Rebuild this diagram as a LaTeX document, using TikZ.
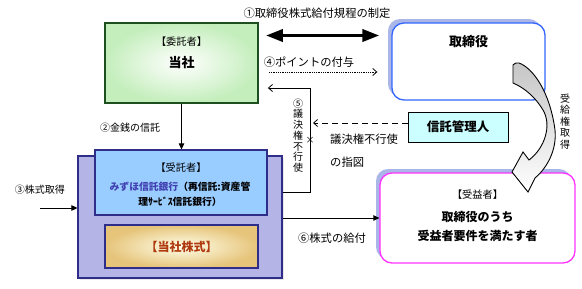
\documentclass[tikz,border=0pt]{standalone}
\usepackage{fontspec}
\setmainfont{Noto Sans CJK JP}
\usetikzlibrary{arrows.meta, shadows}
\definecolor{consignorline}{HTML}{1E4F1E}
\definecolor{consignorfill}{HTML}{C4EEBC}
\definecolor{directorline}{HTML}{3366FF}
\definecolor{beneline}{HTML}{FF33FF}
\definecolor{shadowblue}{HTML}{AAB6E8}
\definecolor{adminfill}{HTML}{CCFFFF}
\definecolor{trustline}{HTML}{2E2E8A}
\definecolor{outerfill}{HTML}{B4B4E6}
\definecolor{innerfill}{HTML}{99CCFF}
\definecolor{sharefill}{HTML}{E6C47A}
\definecolor{sharetext}{HTML}{B03A10}
\definecolor{mizuho}{HTML}{4040B0}
\tikzset{
  lbl/.style={font=\fontsize{11.3}{13}\selectfont, inner sep=0pt},
  smalllbl/.style={font=\fontsize{10}{12}\selectfont, inner sep=0pt},
  vlbl/.style={align=center, inner sep=0pt},
  titlelbl/.style={font=\fontsize{10.2}{12}\selectfont, inner sep=0pt},
  namelbl/.style={font=\bfseries\fontsize{#1}{#1}\selectfont, inner sep=0pt},
  thinarrow/.style={line width=0.8pt, -{Triangle[length=6pt,width=5.5pt]}},
  barbarrow/.style={line width=0.8pt, -{Straight Barb[length=4pt,width=7pt]}},
  roundbox/.style={draw=#1, line width=1.3pt, rounded corners=12pt, fill=white,
    general shadow={fill=shadowblue, shadow xshift=-4pt, shadow yshift=4pt}},
  trustbox/.style={draw=trustline, line width=1.1pt},
}

\begin{document}
\begin{tikzpicture}[x=1pt, y=-1pt]
\useasboundingbox (0,0) rectangle (582,289);

\node[draw=consignorline, line width=1.8pt, inner color=white, outer color=consignorfill,
  minimum width=153pt, minimum height=80pt] (consignor) at (181.5,63) {};
\node[titlelbl] (consignortitle) at (181.5,42) {【委託者】};
\node[namelbl=13] (consignorname) at (181.5,63) {当社};

\node[roundbox=directorline, minimum width=153pt, minimum height=77pt] (director) at (468.5,61.5) {};
\node[namelbl=13] (directorname) at (468.5,42) {取締役};

\node[draw, line width=1pt, fill=adminfill, minimum width=100pt, minimum height=30pt,
  namelbl=12.5] (admin) at (458,127) {信託管理人};

\node[trustbox, fill=outerfill, minimum width=204pt, minimum height=122pt,
  drop shadow={fill=gray!35, shadow xshift=2pt, shadow yshift=-2pt}] (outer) at (180,217) {};
\node[trustbox, fill=innerfill, minimum width=172pt, minimum height=65pt] (inner) at (181,182.5) {};
\node[titlelbl] (trusteetitle) at (181,168) {【受託者】};
\node[align=center, inner sep=0pt, font=\bfseries\fontsize{9.8}{15}\selectfont] (trusteename) at (180,194.5)
  {\textcolor{mizuho}{みずほ信託銀行}（再信託:資産管\\理ｻｰﾋﾞｽ信託銀行）};
\node[trustbox, inner color=yellow!8, outer color=sharefill, minimum width=153pt, minimum height=43pt,
  namelbl=12, text=sharetext] (shares) at (181.5,246.5) {【当社株式】};

\node[roundbox=beneline, minimum width=195pt, minimum height=90pt] (bene) at (477.5,218) {};
\node[titlelbl] (benetitle) at (477.5,195) {【受益者】};
\node[align=center, inner sep=0pt, font=\bfseries\fontsize{12}{19}\selectfont] (benename) at (477.5,226.5)
  {取締役のうち\\受益者要件を満たす者};

\draw[line width=3.5pt, {Triangle[length=17pt,width=12pt]}-{Triangle[length=17pt,width=12pt]},
  shorten <=7pt, shorten >=12pt] (consignor.east |- 0,35.5) -- (director.west |- 0,35.5);
\node[lbl] (rulelbl) at (317,13) {①取締役株式給付規程の制定};

\draw[barbarrow, densely dotted, shorten <=10pt, shorten >=14pt] (consignor.east |- 0,72) -- (director.west |- 0,72);
\node[lbl] (pointlbl) at (309,62) {④ポイントの付与};

\coordinate (votetop) at (310,88);
\draw[barbarrow, shorten >=9pt] (outer.east |- 0,192) -| (votetop) -- (consignor.east |- votetop);
\node[vlbl, font=\fontsize{10}{10.7}\selectfont] (votelbl) at (298,135.5) {⑤\\議\\決\\権\\不\\行\\使};
\node[font=\fontsize{9}{9}\selectfont, inner sep=0pt] (cross) at (310,140) {×};

\draw[barbarrow, dash pattern=on 6pt off 4pt, shorten >=3pt] ([yshift=4pt]admin.west) -- (votetop |- 0,123);
\node[lbl, anchor=west, align=left, font=\fontsize{11.3}{23}\selectfont] (instrlbl) at (330,150.5) {議決権不行使\\の指図};

\draw[thinarrow] (consignor.south) -- (consignor.south |- inner.north);
\node[smalllbl] (moneylbl) at (130,128) {②金銭の信託};

\coordinate (buystart) at (40,208);
\draw[thinarrow] (buystart) -- (buystart -| outer.west);
\node[smalllbl] (buylbl) at (40,190) {③株式取得};

\draw[thinarrow] (outer.east |- bene.west) -- (bene.west);
\node[lbl] (givelbl) at (332,238) {⑥株式の給付};

\draw[line width=0.9pt, top color=gray!45, bottom color=white]
  (513,65) .. controls (515,63) .. (519,63)
  .. controls (533,68) and (550,92) .. (555,130)
  .. controls (557,150) and (547,168) .. (535,178)
  -- (528,192) -- (512,172) -- (523,152) -- (529,160)
  .. controls (545,148) and (552,125) .. (543,110)
  .. controls (536,98) and (525,88) .. (513,83) -- cycle;
\node[vlbl, font=\fontsize{10}{11.4}\selectfont] (rightlbl) at (565,121.5) {受\\給\\権\\取\\得};
\end{tikzpicture}
\end{document}
